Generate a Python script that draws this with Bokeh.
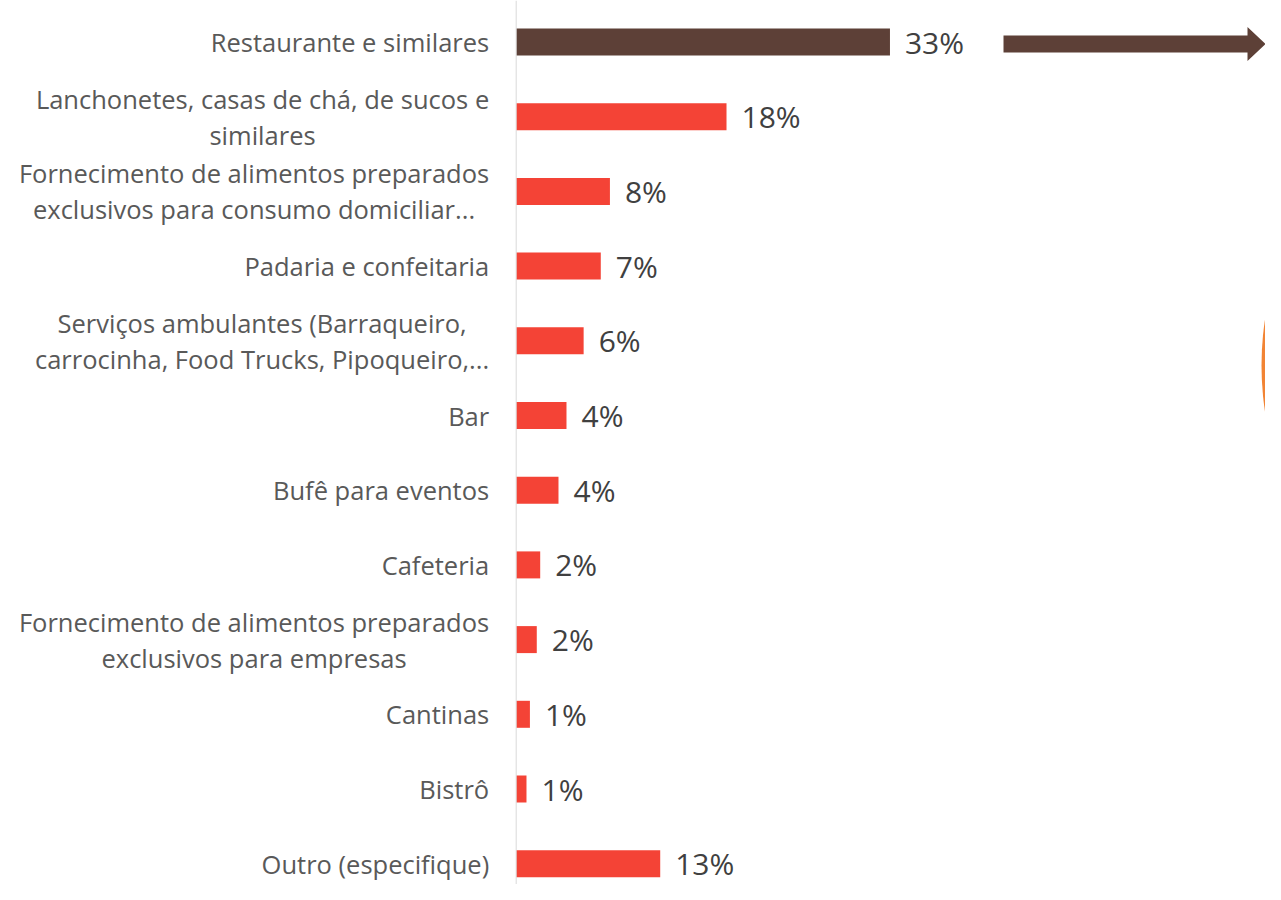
from bokeh.plotting import figure
from bokeh.models import ColumnDataSource, Range1d, Span
from bokeh.core.properties import value
from bokeh.embed import file_html
from bokeh.resources import INLINE

categories = [
    "Restaurante e similares",
    "Lanchonetes, casas de chá, de sucos e\nsimilares",
    "Fornecimento de alimentos preparados\nexclusivos para consumo domiciliar...",
    "Padaria e confeitaria",
    "Serviços ambulantes (Barraqueiro,\ncarrocinha, Food Trucks, Pipoqueiro,...",
    "Bar",
    "Bufê para eventos",
    "Cafeteria",
    "Fornecimento de alimentos preparados\nexclusivos para empresas",
    "Cantinas",
    "Bistrô",
    "Outro (especifique)",
]
shares = [32.7, 18.4, 8.2, 7.4, 5.9, 4.4, 3.7, 2.1, 1.8, 1.2, 0.9, 12.6]
share_labels = [f"{round(v)}%" for v in shares]

BROWN = "#5D4037"
RED = "#F44336"
colors = [BROWN] + [RED] * (len(shares) - 1)
rows = list(range(len(categories)))

src = ColumnDataSource(dict(y=rows, cat=categories, v=shares, lab=share_labels, c=colors))

W, H = 1265, 884
PX_PER = 11.43
x0_px = 515.7
row_px = 74.7
top_px = 41.5

p = figure(width=W, height=H, output_backend="svg", toolbar_location=None,
           x_range=Range1d(-x0_px / PX_PER, (W - x0_px) / PX_PER),
           y_range=Range1d((H - top_px) / row_px, -top_px / row_px),
           min_border=0, outline_line_color=None)
p.xaxis.visible = False
p.yaxis.visible = False
p.grid.visible = False
p.background_fill_color = "white"
p.border_fill_color = "white"

p.add_layout(Span(location=0, dimension="height", line_color="#D9D9D9", line_width=1))

p.hbar(y="y", left=0, right="v", height=27 / row_px, fill_color="c", line_color=None, source=src)

p.text(x="v", y="y", text="lab", x_offset=15, text_align="left", text_baseline="middle",
       text_font=value("Open Sans"), text_font_size="30px", text_color="#404040", source=src)

p.text(x=0, y="y", text="cat", x_offset=-27, anchor=value("center_right"), text_align="center",
       text_baseline="middle", text_line_height=1.06,
       text_font=value("Open Sans"), text_font_size="25.5px", text_color="#595959", source=src)

# decorative arrow next to the top bar
ax_start = (1003 - x0_px) / PX_PER
ax_head = (1247 - x0_px) / PX_PER
ax_tip = (W - x0_px) / PX_PER
yc = 2.0 / row_px
sh = 8.6 / row_px
hh = 17 / row_px
p.patch(x=[ax_start, ax_head, ax_head, ax_tip, ax_head, ax_head, ax_start],
        y=[yc - sh, yc - sh, yc - hh, yc, yc + hh, yc + sh, yc + sh],
        fill_color=BROWN, line_color=None)

# partial orange shape at the right edge (edge of a large circle)
p.ellipse(x=(1261 + 305 - x0_px) / PX_PER, y=(365 - top_px) / row_px,
          width=610 / PX_PER, height=610 / row_px, fill_color="#F28434", line_color=None)

open("out.html", "w").write(file_html(p, INLINE))
